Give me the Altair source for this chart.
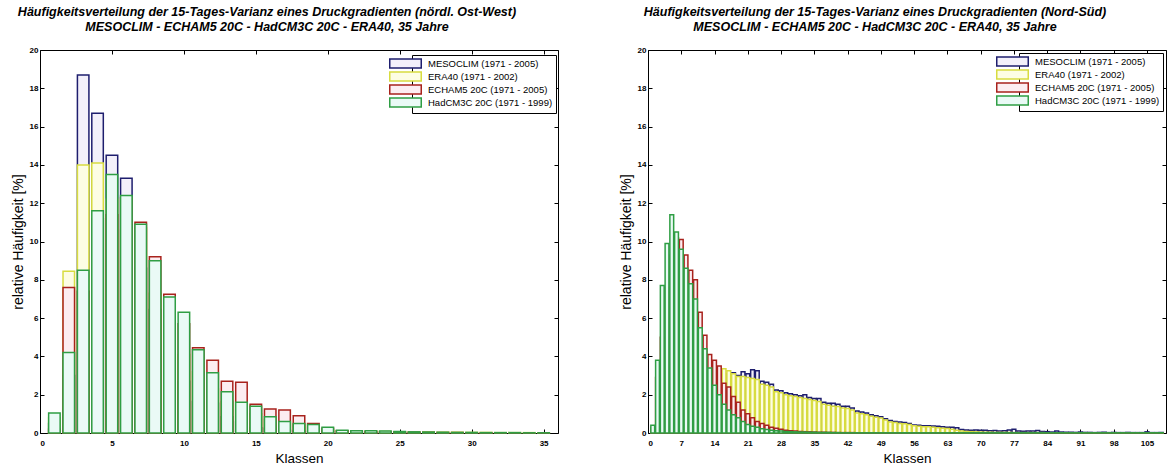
import altair as alt
import pandas as pd

series = ["MESOCLIM (1971 - 2005)", "ERA40 (1971 - 2002)",
          "ECHAM5 20C (1971 - 2005)", "HadCM3C 20C (1971 - 1999)"]
stroke_colors = ["#1e1e6e", "#d8dc40", "#a8221c", "#2f9e44"]
fill_colors = ["#f3f0fa", "#fdfde4", "#fcedf1", "#eafaf6"]
stroke_widths = [1.5, 1.5, 1.5, 2.2]

title_left = ["Häufigkeitsverteilung der 15-Tages-Varianz eines Druckgradienten (nördl. Ost-West)",
              "MESOCLIM - ECHAM5 20C - HadCM3C 20C - ERA40, 35 Jahre"]
title_right = ["Häufigkeitsverteilung der 15-Tages-Varianz eines Druckgradienten (Nord-Süd)",
               "MESOCLIM - ECHAM5 20C - HadCM3C 20C - ERA40, 35 Jahre"]

y_ticks = [0, 2, 4, 6, 8, 10, 12, 14, 16, 18, 20]
x_ticks_left = [0, 5, 10, 15, 20, 25, 30, 35]
x_ticks_right = [0, 7, 14, 21, 28, 35, 42, 49, 56, 63, 70, 77, 84, 91, 98, 105]

# ---- left panel (nördl. Ost-West), classes 1..35
classes_left = list(range(1, 36))
mesoclim_left = [0.5, 3.0, 18.7, 16.7, 14.5, 13.3, 8.6, 6.45, 4.1, 2.7, 1.65, 1.55, 0.85, 0.57, 0.28,
                 0.25, 0.15, 0.1, 0.05, 0.05, 0.03, 0.03, 0.02, 0.02, 0.01, 0.01, 0.01, 0.0, 0.0, 0.0,
                 0.0, 0.0, 0.0, 0.0, 0.0]
era40_left = [0.8, 8.45, 14.0, 14.1, 12.2, 10.6, 10.7, 7.3, 6.1, 4.1, 3.2, 2.3, 1.65, 1.2, 1.0,
              0.7, 0.5, 0.45, 0.3, 0.15, 0.12, 0.1, 0.08, 0.08, 0.06, 0.05, 0.05, 0.04, 0.04, 0.03,
              0.03, 0.02, 0.02, 0.02, 0.01]
echam5_left = [0.2, 7.6, 7.4, 11.2, 11.4, 12.3, 11.0, 9.2, 7.25, 5.7, 4.45, 3.8, 2.7, 2.65, 1.5,
               1.25, 1.2, 0.9, 0.5, 0.25, 0.12, 0.1, 0.08, 0.06, 0.05, 0.04, 0.03, 0.02, 0.02, 0.01,
               0.01, 0.01, 0.0, 0.0, 0.0]
hadcm3_left = [1.05, 4.2, 8.5, 11.6, 13.5, 12.4, 10.9, 9.0, 7.1, 6.3, 4.35, 3.15, 2.15, 1.6, 1.4,
               0.85, 0.6, 0.5, 0.45, 0.3, 0.15, 0.12, 0.12, 0.1, 0.08, 0.06, 0.05, 0.04, 0.03, 0.03,
               0.02, 0.02, 0.02, 0.01, 0.01]

# ---- right panel (Nord-Süd), classes 1..108
classes_right = list(range(1, 109))
mesoclim_right = [0.02, 0.05, 0.15, 0.3, 0.45, 0.65, 0.95, 1.25, 1.7, 2.2,
                  2.5, 2.75, 2.9, 3.0, 3.05, 3.1, 3.1, 3.15, 3.0, 3.2,
                  3.1, 3.3, 3.25, 2.7, 2.65, 2.55, 2.25, 2.2, 2.1, 2.05,
                  2.0, 1.95, 2.0, 1.85, 1.8, 1.8, 1.6, 1.55, 1.55, 1.5,
                  1.4, 1.4, 1.3, 1.15, 1.1, 1.05, 0.95, 0.9, 0.85, 0.75,
                  0.65, 0.6, 0.58, 0.55, 0.5, 0.42, 0.4, 0.38, 0.38, 0.36,
                  0.35, 0.32, 0.3, 0.3, 0.28, 0.18, 0.16, 0.15, 0.16, 0.14,
                  0.15, 0.12, 0.13, 0.1, 0.12, 0.16, 0.2, 0.1, 0.09, 0.1,
                  0.11, 0.13, 0.08, 0.07, 0.05, 0.1, 0.05, 0.04, 0.04, 0.03,
                  0.05, 0.03, 0.03, 0.02, 0.03, 0.04, 0.02, 0.03, 0.02, 0.02,
                  0.03, 0.02, 0.02, 0.02, 0.06, 0.02, 0.02, 0.02]
era40_right = [0.05, 0.15, 0.3, 0.5, 0.75, 1.0, 1.3, 1.6, 1.95, 2.3,
               2.6, 2.9, 3.1, 3.3, 3.4, 3.35, 3.25, 3.1, 2.95, 2.95,
               2.9, 2.85, 2.8, 2.55, 2.5, 2.4, 2.15, 2.1, 2.0, 1.95,
               1.9, 1.85, 1.8, 1.75, 1.7, 1.65, 1.5, 1.45, 1.4, 1.38,
               1.3, 1.28, 1.2, 1.05, 1.0, 0.95, 0.88, 0.82, 0.78, 0.68,
               0.58, 0.55, 0.5, 0.48, 0.45, 0.38, 0.35, 0.33, 0.32, 0.3,
               0.28, 0.25, 0.23, 0.2, 0.15, 0.1, 0.08, 0.07, 0.06, 0.05,
               0.04, 0.04, 0.03, 0.03, 0.03, 0.03, 0.02, 0.02, 0.02, 0.02,
               0.02, 0.02, 0.02, 0.01, 0.01, 0.01, 0.01, 0.01, 0.01, 0.01,
               0.01, 0.01, 0.01, 0.01, 0.01, 0.01, 0.01, 0.01, 0.01, 0.01,
               0.01, 0.01, 0.01, 0.01, 0.01, 0.01, 0.01, 0.01]
echam5_right = [0.3, 2.9, 5.0, 7.6, 9.3, 10.2, 10.1, 9.3, 8.5, 8.0,
                6.3, 5.1, 4.1, 3.8, 3.5, 2.6, 2.4, 1.9, 1.6, 1.2,
                1.0, 0.8, 0.6, 0.5, 0.4, 0.3, 0.25, 0.2, 0.15, 0.12,
                0.1, 0.08, 0.07, 0.06, 0.05, 0.04, 0.04, 0.03, 0.03, 0.02,
                0.02, 0.02, 0.02, 0.01, 0.01, 0.01, 0.01, 0.01, 0.01, 0.01,
                0.01, 0.01, 0.01, 0.01, 0.01, 0.01, 0.01, 0.01, 0.01, 0.01,
                0.01, 0.01, 0.01, 0.01, 0.01, 0.01, 0.01, 0.01, 0.01, 0.01,
                0.01, 0.01, 0.01, 0.01, 0.01, 0.01, 0.01, 0.01, 0.01, 0.01,
                0.01, 0.01, 0.01, 0.01, 0.01, 0.01, 0.01, 0.01, 0.01, 0.01,
                0.01, 0.01, 0.01, 0.01, 0.01, 0.01, 0.01, 0.01, 0.01, 0.01,
                0.01, 0.01, 0.01, 0.01, 0.01, 0.01, 0.01, 0.01]
hadcm3_right = [0.4, 3.8, 7.7, 9.9, 11.4, 10.5, 9.6, 8.6, 7.8, 7.0,
                5.5, 4.4, 3.4, 2.5, 2.0, 1.5, 1.2, 0.95, 0.8, 0.6,
                0.45, 0.35, 0.3, 0.22, 0.18, 0.14, 0.12, 0.1, 0.08, 0.07,
                0.06, 0.05, 0.05, 0.04, 0.04, 0.03, 0.03, 0.03, 0.02, 0.02,
                0.01, 0.01, 0.01, 0.01, 0.01, 0.01, 0.01, 0.01, 0.01, 0.01,
                0.01, 0.01, 0.01, 0.01, 0.01, 0.01, 0.01, 0.01, 0.01, 0.01,
                0.01, 0.01, 0.01, 0.01, 0.01, 0.01, 0.01, 0.01, 0.01, 0.01,
                0.01, 0.01, 0.01, 0.01, 0.01, 0.01, 0.01, 0.01, 0.01, 0.01,
                0.01, 0.01, 0.01, 0.01, 0.01, 0.01, 0.01, 0.01, 0.01, 0.01,
                0.01, 0.01, 0.01, 0.01, 0.01, 0.01, 0.01, 0.01, 0.01, 0.01,
                0.01, 0.01, 0.01, 0.01, 0.01, 0.01, 0.01, 0.01]

FONT = "Liberation Sans"
W, H = 518, 383


def panel(classes, values, xmax, xticks, title, lx, ly):
    rows = []
    for si, (name, vals) in enumerate(zip(series, values)):
        for k, v in zip(classes, vals):
            rows.append({"k": k, "v": v, "series": name, "ord": si})
    df = pd.DataFrame(rows)
    xscale = alt.Scale(domain=[0, xmax], nice=False, zero=False)
    yscale = alt.Scale(domain=[0, 20], nice=False)
    legend = alt.Legend(
        title=None, orient="none", legendX=lx, legendY=ly,
        symbolType="M-3.5,-1L3.5,-1L3.5,1L-3.5,1Z", symbolSize=81,
        symbolStrokeWidth=2, symbolOffset=-15, labelOffset=17,
        labelFont=FONT, labelFontSize=9.5, labelColor="black",
        fillColor="white", strokeColor="black", padding=3, rowPadding=-2,
    )
    base = alt.Chart(df).transform_calculate(x0="datum.k - 0.4", x1="datum.k + 0.4")
    bars = base.mark_bar().encode(
        x=alt.X("x0:Q", scale=xscale,
                axis=alt.Axis(values=xticks, tickSize=4, offset=-4, domain=False, grid=False,
                              labelPadding=6, labelFontSize=8, labelFontWeight="bold",
                              title="Klassen", titleFontSize=13.5, titleFontWeight="normal",
                              titlePadding=4)),
        x2="x1:Q",
        y=alt.Y("v:Q", scale=yscale,
                axis=alt.Axis(values=y_ticks, tickSize=4, offset=-4, domain=False, grid=False,
                              labelPadding=2, labelFontSize=8, labelFontWeight="bold",
                              title="relative Häufigkeit [%]",
                              titleFontSize=14, titleFontWeight="normal", titlePadding=4)),
        y2=alt.datum(0),
        fill=alt.Fill("series:N", scale=alt.Scale(domain=series, range=fill_colors), legend=legend),
        stroke=alt.Stroke("series:N", scale=alt.Scale(domain=series, range=stroke_colors), legend=legend),
        strokeWidth=alt.StrokeWidth("series:N", scale=alt.Scale(domain=series, range=stroke_widths),
                                    legend=None),
        order=alt.Order("ord:Q"),
    )
    frame = base.mark_point(opacity=0).encode(
        x=alt.X("x0:Q", scale=xscale,
                axis=alt.Axis(orient="top", values=xticks, labels=False, tickSize=4, offset=-4,
                              domain=False, grid=False, title=None)),
        y=alt.Y("v:Q", scale=yscale,
                axis=alt.Axis(orient="right", values=y_ticks, labels=False, tickSize=4, offset=-4,
                              domain=False, grid=False, title=None)),
    )
    return alt.layer(bars, frame).resolve_axis(x="independent", y="independent").properties(
        width=W, height=H,
        title=alt.TitleParams(text=title, font=FONT, fontSize=12.5, fontStyle="italic",
                              fontWeight="bold", anchor="middle", frame="group", dx=-32, offset=13,
                              lineHeight=15, color="black"),
    )


left = panel(classes_left, [mesoclim_left, era40_left, echam5_left, hadcm3_left],
             36, x_ticks_left, title_left, 372, 5)
right = panel(classes_right, [mesoclim_right, era40_right, echam5_right, hadcm3_right],
              109, x_ticks_right, title_right, 371, 3)

chart = alt.hconcat(left, right, spacing=90, bounds="flush").resolve_scale(
    fill="independent", stroke="independent", strokeWidth="independent"
).resolve_legend(fill="independent", stroke="independent").properties(
    padding={"left": 10, "top": 5, "right": 2, "bottom": 2}
).configure_view(stroke="black", strokeWidth=1).configure_axis(
    labelFont=FONT, titleFont=FONT, labelColor="black", titleColor="black", tickColor="black"
)

chart.save("out.html", embed_options={"renderer": "svg", "actions": False})
